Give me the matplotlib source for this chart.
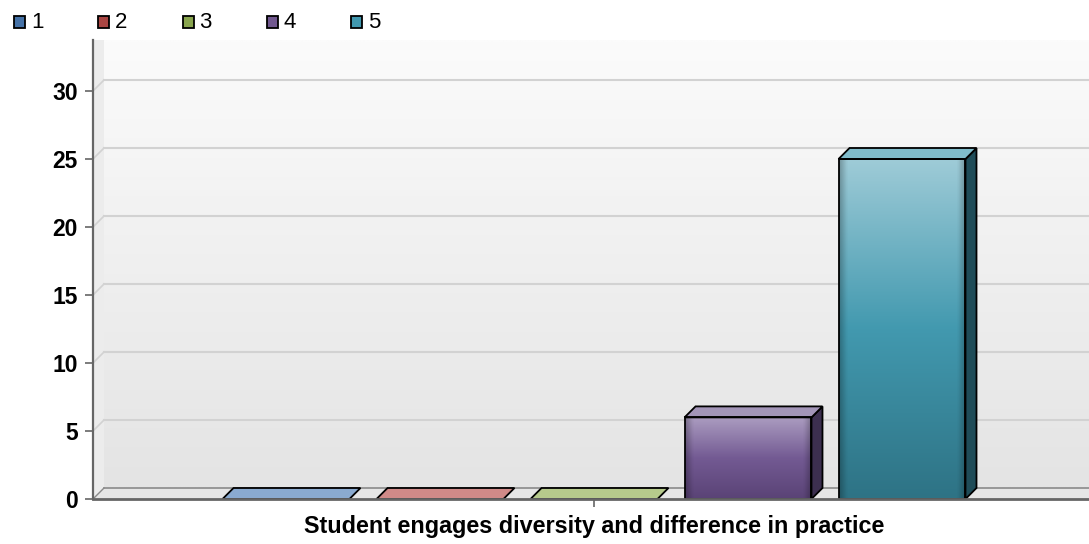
import matplotlib.pyplot as plt
import numpy as np
from matplotlib.patches import Polygon, Rectangle
from matplotlib.colors import to_rgb

# Daten
categories = ["Student engages diversity and difference in practice"]
series_names = ["1", "2", "3", "4", "5"]
values = [0, 0, 0, 6, 25]
yticks = [0, 5, 10, 15, 20, 25, 30]

# Farben je Serie
legend_colors = ["#4572a7", "#aa4643", "#89a54e", "#71588f", "#4198af"]
front_top = ["#9ab3d3", "#d39a98", "#bccf96", "#ab9cc0", "#9ecbd7"]
front_mid = ["#4a78ad", "#ad4a47", "#8aa751", "#735a93", "#4299af"]
front_bottom = ["#3a6092", "#8f3a38", "#718a40", "#5a4376", "#2e7385"]
top_colors = ["#8aaad0", "#d08a88", "#b6ca8c", "#a395b8", "#80bccb"]
side_colors = ["#263f60", "#5e2624", "#4a5a2a", "#3c2f4f", "#1f4c58"]

plt.rcParams['font.family'] = ['Liberation Sans', 'DejaVu Sans']

W, H = 1089, 544
fig = plt.figure(figsize=(W / 100, H / 100), dpi=100)
unit = 13.6  # Pixel pro Werteinheit
ax = fig.add_axes([93 / W, 45 / H, 1002 / W, (499 - 40) / H])
ytop = (499 - 40) / unit
dx = 11 / 1002
dy = 11 / unit


def gradient_img(stops, n=120, edge=True):
    t = np.linspace(0, 1, n)
    pos = np.linspace(0, 1, len(stops))
    cols = np.array([to_rgb(c) for c in stops])
    img = np.stack([np.interp(t, pos, cols[:, k]) for k in range(3)], axis=-1)[:, None, :]
    img = np.repeat(img, 60, axis=1)
    if edge:
        u = np.linspace(0, 1, 60)
        f = 1 - 0.25 * np.clip(1 - np.minimum(u, 1 - u) / 0.06, 0, 1)
        img = img * f[None, :, None]
    return np.clip(img, 0, 1)


# Rückwand mit Verlauf
wall = gradient_img(["#fbfbfb", "#e4e4e4"], edge=False)
ax.imshow(wall, extent=[dx, 1.05, dy, ytop], aspect='auto', zorder=0, interpolation='bilinear')
ax.add_patch(Polygon([(0, 0), (dx, dy), (dx, ytop), (0, ytop)], closed=True,
                     fc="#ececec", ec="none", zorder=0.5))
# Boden
ax.add_patch(Polygon([(0, 0), (1.05, 0), (1.05, dy), (dx, dy)], closed=True,
                     fc="#e6e6e6", ec="none", zorder=1, clip_on=False))
ax.plot([dx, 1.05], [dy, dy], color="#8a8a8a", lw=1.2, zorder=1.1, clip_on=False)
ax.plot([0, dx], [0, dy], color="#8a8a8a", lw=1.0, zorder=1.1)

# Gitterlinien
for v in yticks[1:]:
    ax.plot([dx, 1.05], [v + dy, v + dy], color="#d2d2d2", lw=1.5, zorder=0.8, clip_on=False)
    ax.plot([0, dx], [v, v + dy], color="#d2d2d2", lw=1.2, zorder=0.8)

# Balken
n = len(values)
spacing = 0.1537
bw = 0.1267
for i, v in enumerate(values):
    x0 = 0.5 + (i - (n - 1) / 2) * spacing - bw / 2
    x1 = x0 + bw
    if v > 0:
        img = gradient_img([front_top[i], front_mid[i], front_bottom[i]])
        ax.imshow(img, extent=[x0, x1, 0, v], aspect='auto', zorder=3, interpolation='bilinear')
        ax.add_patch(Rectangle((x0, 0), bw, v, fc="none", ec="black", lw=1.3, zorder=4))
        ax.add_patch(Polygon([(x1, 0), (x1 + dx, dy), (x1 + dx, v + dy), (x1, v)], closed=True,
                             fc=side_colors[i], ec="black", lw=1.3, zorder=3))
    ax.add_patch(Polygon([(x0, v), (x1, v), (x1 + dx, v + dy), (x0 + dx, v + dy)], closed=True,
                         fc=top_colors[i], ec="black", lw=1.3, zorder=3.5))

ax.set_xlim(0, 1)
ax.set_ylim(0, ytop)
for s in ["top", "right"]:
    ax.spines[s].set_visible(False)
ax.spines["left"].set_color("#666666")
ax.spines["left"].set_linewidth(1.6)
ax.spines["bottom"].set_color("#666666")
ax.spines["bottom"].set_linewidth(2)
ax.spines["bottom"].set_zorder(5)
ax.set_yticks(yticks)
ax.set_yticklabels([str(t) for t in yticks], fontsize=16.5, fontweight="bold")
ax.tick_params(axis="y", length=6, width=1.2, color="#666666", pad=5)
ax.set_xticks([0.5])
ax.set_xticklabels([""])
ax.tick_params(axis="x", length=6, width=1.2, color="#666666")

fig.text(594 / W, 1 - 527 / H, categories[0], ha="center", va="center",
         fontsize=16.8, fontweight="bold")

# Legende
for i, name in enumerate(series_names):
    lx = 14 + i * 84.3
    fig.patches.append(Rectangle((lx / W, 1 - 28 / H), 11 / W, 12 / H, transform=fig.transFigure,
                                 fc=legend_colors[i], ec="black", lw=1.3))
    fig.text((lx + 17) / W, 1 - 22 / H, name, ha="left", va="center", fontsize=16)

fig.savefig("out.png", dpi=100)
